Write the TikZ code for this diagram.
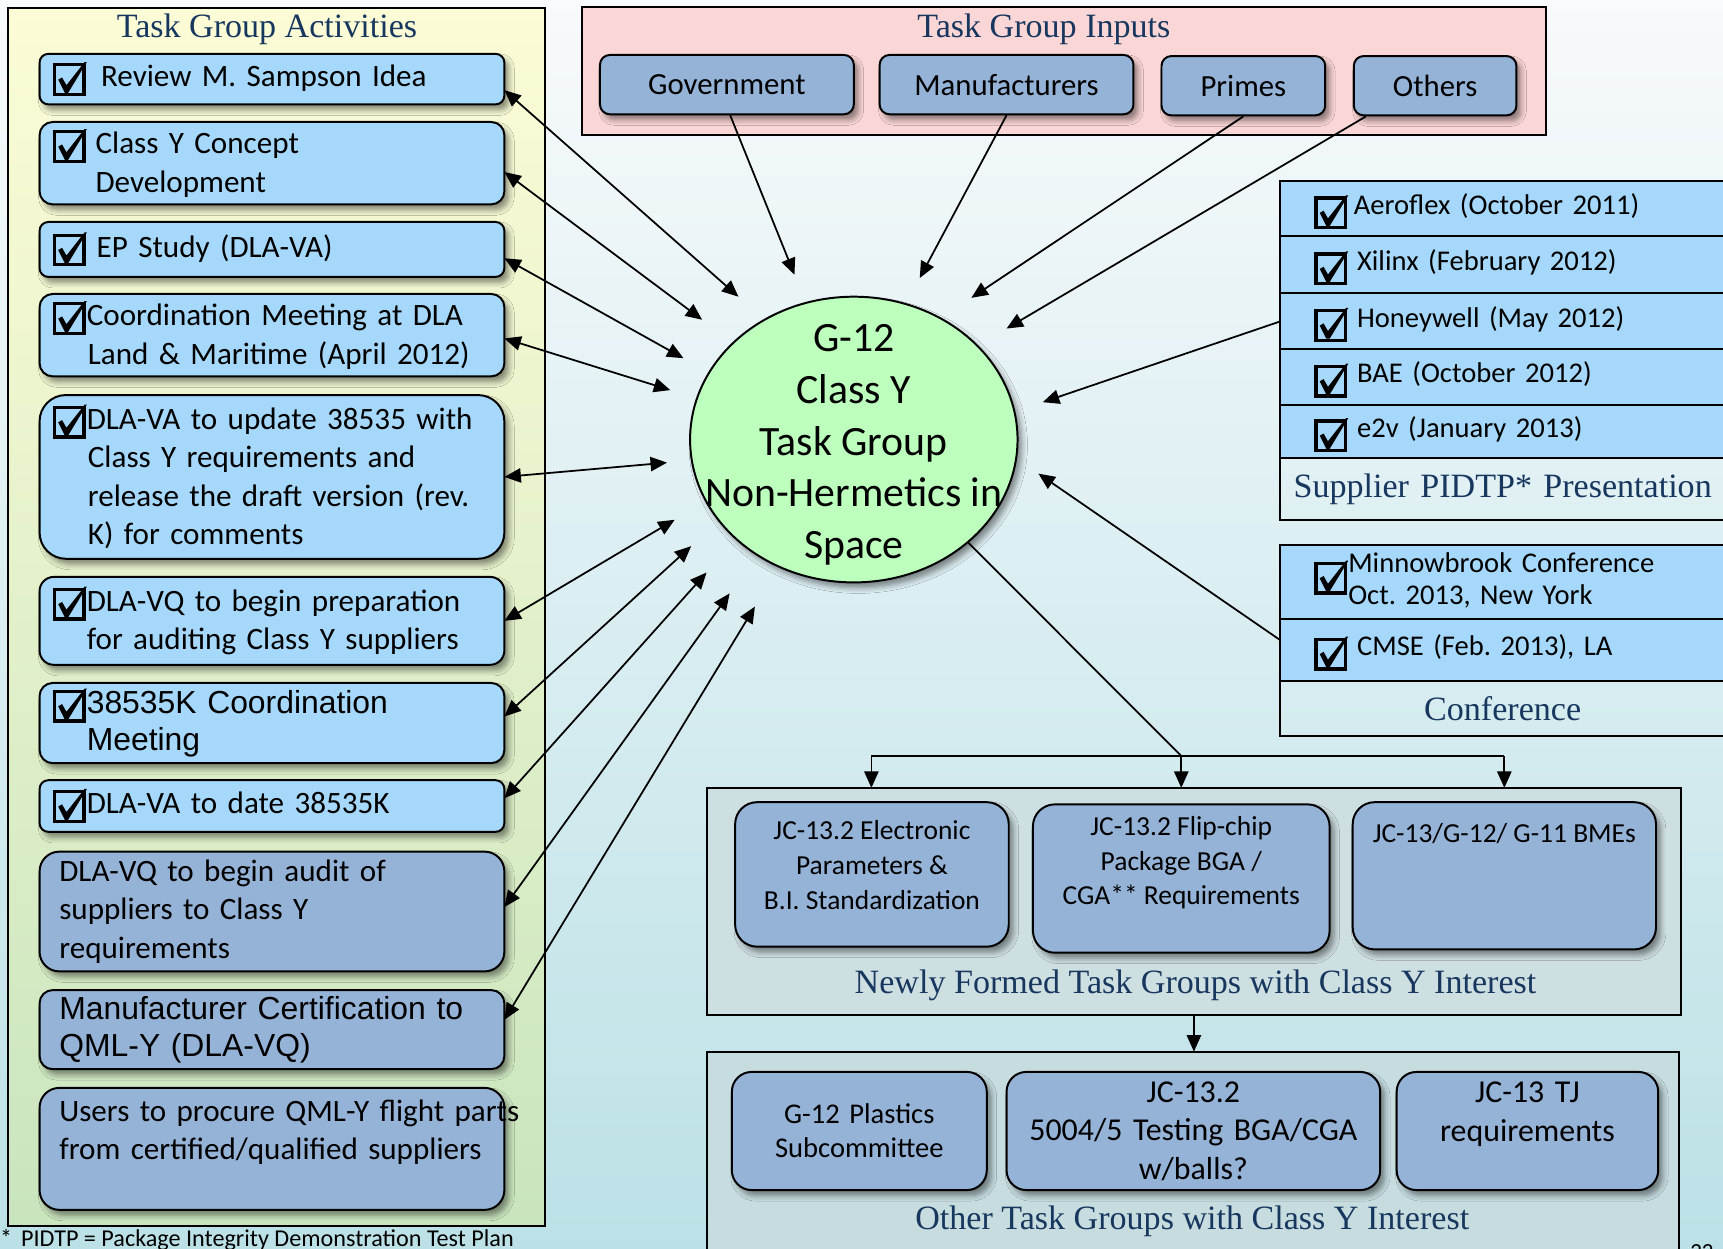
\documentclass[tikz,border=0pt]{standalone}
\usepackage{fontspec}
\setmainfont{Carlito}
\newfontfamily\arialfont{Liberation Sans}
\newfontfamily\capfont{Liberation Serif}
\usetikzlibrary{arrows.meta,shapes.geometric,shadows.blur,positioning}
\frenchspacing

\definecolor{bgtop}{RGB}{248,250,252}
\definecolor{bgbot}{RGB}{187,225,230}
\definecolor{acttop}{RGB}{252,252,214}
\definecolor{actbot}{RGB}{201,229,190}
\definecolor{ltblue}{RGB}{165,216,250}
\definecolor{dkblue}{RGB}{149,179,215}
\definecolor{inpink}{RGB}{251,214,214}
\definecolor{hubgreen}{RGB}{189,255,189}
\definecolor{capnavy}{RGB}{23,55,94}
\definecolor{newlyfill}{RGB}{206,223,226}
\definecolor{otherfill}{RGB}{198,220,223}

% ticked box in front of a line
\newcommand{\chkbox}[1][8.5]{\tikz[baseline={(0pt,#1pt)},x=1pt,y=1pt,sharp corners]{%
  \draw[black,line width=3pt,sharp corners] (1.5,1.5) rectangle (28.5,28.5);
  \fill[black,sharp corners] (5,15) -- (11,3) -- (14,3) -- (31,31) -- (29,31) -- (12.5,10) -- (8.5,17) -- cycle;}}
\newcommand{\tchk}{\chkbox[13.5]\rule{0pt}{24pt}}

\tikzset{
  shd/.style={blur shadow={shadow xshift=4pt,shadow yshift=-5pt,shadow blur radius=5pt,shadow blur steps=5,shadow opacity=45}},
  panel/.style={draw=black,line width=1.8pt,anchor=north west,inner sep=0pt,outer sep=0pt},
  captxt/.style={font=\capfont\fontsize{31}{36}\selectfont,text=capnavy,inner sep=0pt},
  act/.style={draw=black,line width=1.8pt,fill=ltblue,anchor=north west,text width=399pt,inner xsep=12pt,inner ysep=0pt,outer sep=0pt,align=left,font=\fontsize{28.3}{35}\selectfont,shd},
  actd/.style={act,fill=dkblue,text width=387pt,inner xsep=18pt},
  inbox/.style={draw=black,line width=1.8pt,fill=dkblue,rounded corners=9pt,minimum height=54pt,inner sep=0pt,font=\fontsize{28}{34}\selectfont,shd},
  hub/.style={ellipse,draw=black,line width=1.8pt,fill=hubgreen,minimum width=298pt,minimum height=260pt,inner sep=0pt,shd},
  srow/.style={draw=black,line width=1.8pt,fill=ltblue,anchor=north west,text width=343pt,inner xsep=31pt,inner ysep=0pt,outer sep=0pt,align=left,font=\fontsize{26}{29}\selectfont},
  scap/.style={srow,fill=none,text width=395pt,inner xsep=5pt,align=center,font=\capfont\fontsize{31}{36}\selectfont,text=capnavy},
  tgbox/.style={draw=black,line width=1.8pt,fill=dkblue,inner sep=0pt,align=center,shd},
  arr/.style={-{Triangle[length=15pt,width=13pt]},line width=1.6pt},
  darr/.style={{Triangle[length=15pt,width=13pt]}-{Triangle[length=15pt,width=13pt]},line width=1.6pt}
}

\begin{document}
\begin{tikzpicture}[x=1pt,y=-1pt]
\useasboundingbox (0,0) rectangle (1568,1136);
\shade[top color=bgtop,bottom color=bgbot] (0,0) rectangle (1568,1136);

% task group activities
\node[panel,top color=acttop,bottom color=actbot,minimum width=489pt,minimum height=1109pt] (actpanel) at (7,7) {};
\node[captxt,anchor=base] (actT) at (243,34) {Task Group Activities};

\node[act,minimum height=46pt,rounded corners=8pt] (act1) at (36,49) {\chkbox\hspace{13pt}Review M. Sampson Idea};
\node[act,minimum height=75pt,rounded corners=12pt] (act2) at (36,111) {\chkbox\hspace{8pt}Class Y Concept\\\hspace*{39pt}Development};
\node[act,minimum height=50pt,rounded corners=8pt] (act3) at (36,202) {\chkbox\hspace{9pt}EP Study (DLA-VA)};
\node[act,minimum height=75pt,rounded corners=12pt] (act4) at (36,267.5) {\chkbox Coordination Meeting at DLA\\\hspace*{32pt}Land \& Maritime (April 2012)};
\node[act,minimum height=149pt,rounded corners=24pt] (act5) at (36,359.5) {\chkbox DLA-VA to update 38535 with\\\hspace*{32pt}Class Y requirements and\\\hspace*{32pt}release the draft version (rev.\\\hspace*{32pt}K) for comments};
\node[act,minimum height=80pt,rounded corners=13pt] (act6) at (36,525) {\chkbox DLA-VQ to begin preparation\\\hspace*{31pt}for auditing Class Y suppliers};
\node[act,minimum height=73pt,rounded corners=12pt,font=\arialfont\fontsize{29}{34}\selectfont] (act7) at (36,621.5) {\chkbox 38535K Coordination\\\hspace*{31pt}Meeting};
\node[act,minimum height=47pt,rounded corners=8pt] (act8) at (36,710) {\chkbox DLA-VA to date 38535K};
\node[actd,minimum height=109pt,rounded corners=18pt] (act9) at (36,775) {DLA-VQ to begin audit of\\suppliers to Class Y\\requirements};
\node[actd,minimum height=72pt,rounded corners=12pt,font=\arialfont\fontsize{29}{34}\selectfont] (act10) at (36,901) {Manufacturer Certification to\\QML-Y (DLA-VQ)};
\node[actd,minimum height=111pt,rounded corners=18pt] (act11) at (36,990) {\mbox{Users to procure QML-Y flight parts}\\\mbox{from certified/qualified suppliers}\\\mbox{}};

% task group inputs
\node[panel,fill=inpink,minimum width=877pt,minimum height=117pt] (inputs) at (530,6) {};
\node[captxt,anchor=base] (inputsT) at (950,34) {Task Group Inputs};
\node[inbox,minimum width=231pt] (gov) at (661.5,77) {Government};
\node[inbox,minimum width=231pt] (manu) at (916,77) {Manufacturers};
\node[inbox,minimum width=149pt] (primes) at (1131.5,78) {Primes};
\node[inbox,minimum width=148pt] (others) at (1306,78) {Others};

% the task group
\node[hub] (g12) at (777,400) {};
\node[font=\fontsize{38}{47}\selectfont,align=center,inner sep=0pt] (g12txt) at (777,405) {G-12\\Class Y\\Task Group\\Non-Hermetics in\\Space};

% supplier presentations
\node[srow,minimum height=50pt] (aero) at (1165,165) {\tchk\hspace{5pt}Aeroflex (October 2011)};
\node[srow,minimum height=52pt,below=0pt of aero] (xil) {\tchk\hspace{8pt}Xilinx (February 2012)};
\node[srow,minimum height=51pt,below=0pt of xil] (honey) {\tchk\hspace{8pt}Honeywell (May 2012)};
\node[srow,minimum height=50.5pt,below=0pt of honey] (bae) {\tchk\hspace{8pt}BAE (October 2012)};
\node[srow,minimum height=48.5pt,below=0pt of bae] (e2v) {\tchk\hspace{8pt}e2v (January 2013)};
\node[scap,minimum height=56pt,below=0pt of e2v] (supcap) {Supplier PIDTP* Presentation};

% conferences
\node[srow,minimum height=67pt] (minn) at (1165,496) {\chkbox[5.5]\begin{tabular}[c]{@{}l@{}}Minnowbrook Conference\\Oct. 2013, New York\end{tabular}};
\node[srow,minimum height=57pt,below=0pt of minn] (cmse) {\tchk\hspace{8pt}CMSE (Feb. 2013), LA};
\node[scap,minimum height=50pt,below=0pt of cmse] (confcap) {Conference};

% newly formed task groups
\node[panel,fill=newlyfill,minimum width=887pt,minimum height=207pt] (newly) at (643,717) {};
\node[captxt,anchor=base] (newlyT) at (1088,904) {Newly Formed Task Groups with Class Y Interest};
\node[tgbox,rounded corners=20pt,font=\fontsize{25}{31.5}\selectfont] (jcElec) at (793.5,795.75) {\begin{minipage}[c][131.5pt][t]{249pt}\centering\vspace*{17pt}JC-13.2 Electronic\\Parameters \&\\B.I. Standardization\end{minipage}};
\node[tgbox,rounded corners=20pt,font=\fontsize{25}{31.5}\selectfont] (jcFlip) at (1075,799.5) {\begin{minipage}[c][135pt][t]{270pt}\centering\vspace*{11pt}JC-13.2 Flip-chip\\Package BGA /\\CGA** Requirements\end{minipage}};
\node[tgbox,rounded corners=20pt,font=\fontsize{25}{31.5}\selectfont] (jcBme) at (1369,797) {\begin{minipage}[c][134pt][t]{276pt}\centering\vspace*{19pt}JC-13/G-12/ G-11 BMEs\end{minipage}};

% other task groups
\node[panel,fill=otherfill,minimum width=885pt,minimum height=200pt] (other) at (643,957) {};
\node[captxt,anchor=base] (otherT) at (1085,1119) {Other Task Groups with Class Y Interest};
\node[tgbox,rounded corners=18pt,text width=232pt,minimum height=107.5pt,font=\fontsize{26}{31}\selectfont] (g12p) at (782,1029.25) {G-12 Plastics\\Subcommittee};
\node[tgbox,rounded corners=18pt,text width=340pt,minimum height=107.5pt,font=\fontsize{29}{35}\selectfont] (jc5004) at (1086,1029.25) {JC-13.2\\5004/5 Testing BGA/CGA\\w/balls?};
\node[tgbox,rounded corners=18pt,text width=238pt,minimum height=107.5pt,font=\fontsize{29}{35}\selectfont] (jcTJ) at (1390,1029.25) {JC-13 TJ\\requirements\\\mbox{}};

% free ends next to the task group
\coordinate (hub1) at (672,270);
\coordinate (hub2) at (639,291);
\coordinate (hub3) at (622,326);
\coordinate (hub4) at (610,355);
\coordinate (hub5) at (607,421);
\coordinate (hub6) at (614,473);
\coordinate (hub7) at (629,497);
\coordinate (hub8) at (643,521);
\coordinate (hub9) at (664,540);
\coordinate (hub10) at (687,552);
\coordinate (hubGov) at (723,250);
\coordinate (hubMan) at (837,253);
\coordinate (hubPri) at (884,271);
\coordinate (hubOth) at (916,299);
\coordinate (hubSup) at (949,366);
\coordinate (hubConf) at (945,431);
\coordinate (busL) at (793,688);
\coordinate (busM) at (1075,688);
\coordinate (busR) at (1369,688);

\draw[darr] ([yshift=-10pt]act1.east) -- (hub1);
\draw[darr] ([yshift=-8pt]act2.east) -- (hub2);
\draw[darr] ([yshift=-8pt]act3.east) -- (hub3);
\draw[darr] ([yshift=-3pt]act4.east) -- (hub4);
\draw[darr] (act5.east) -- (hub5);
\draw[darr] (act6.east) -- (hub6);
\draw[darr] ([yshift=6pt]act7.east) -- (hub7);
\draw[darr] ([yshift=7pt]act8.east) -- (hub8);
\draw[darr] ([yshift=4pt]act9.east) -- (hub9);
\draw[darr] ([yshift=9pt]act10.east) -- (hub10);

\draw[arr] ([xshift=3pt]gov.south) -- (hubGov);
\draw[arr] (manu.south) -- (hubMan);
\draw[arr] (primes.south) -- (hubPri);
\draw[arr] ([xshift=12pt]others.south west) -- (hubOth);
\draw[arr] (honey.west) -- (hubSup);
\draw[arr] ([yshift=9pt]cmse.west) -- (hubConf);

\draw[line width=1.6pt] (g12.-42) -- (busM);
\draw[line width=1.6pt] (busL) -- (busR);
\draw[arr] (busL) -- (busL |- newly.north);
\draw[arr] (busM) -- (busM |- newly.north);
\draw[arr] (busR) -- (busR |- newly.north);
\draw[arr] (newly.south) -- (newly.south |- other.north);

\node[anchor=base west,inner sep=0pt,font=\fontsize{22}{26}\selectfont] (fnote) at (0,1134) {*\hspace{8pt}PIDTP = Package Integrity Demonstration Test Plan};
\node[anchor=base west,inner sep=0pt,font=\fontsize{21}{25}\selectfont] (pgnum) at (1538,1146) {22};
\end{tikzpicture}
\end{document}
